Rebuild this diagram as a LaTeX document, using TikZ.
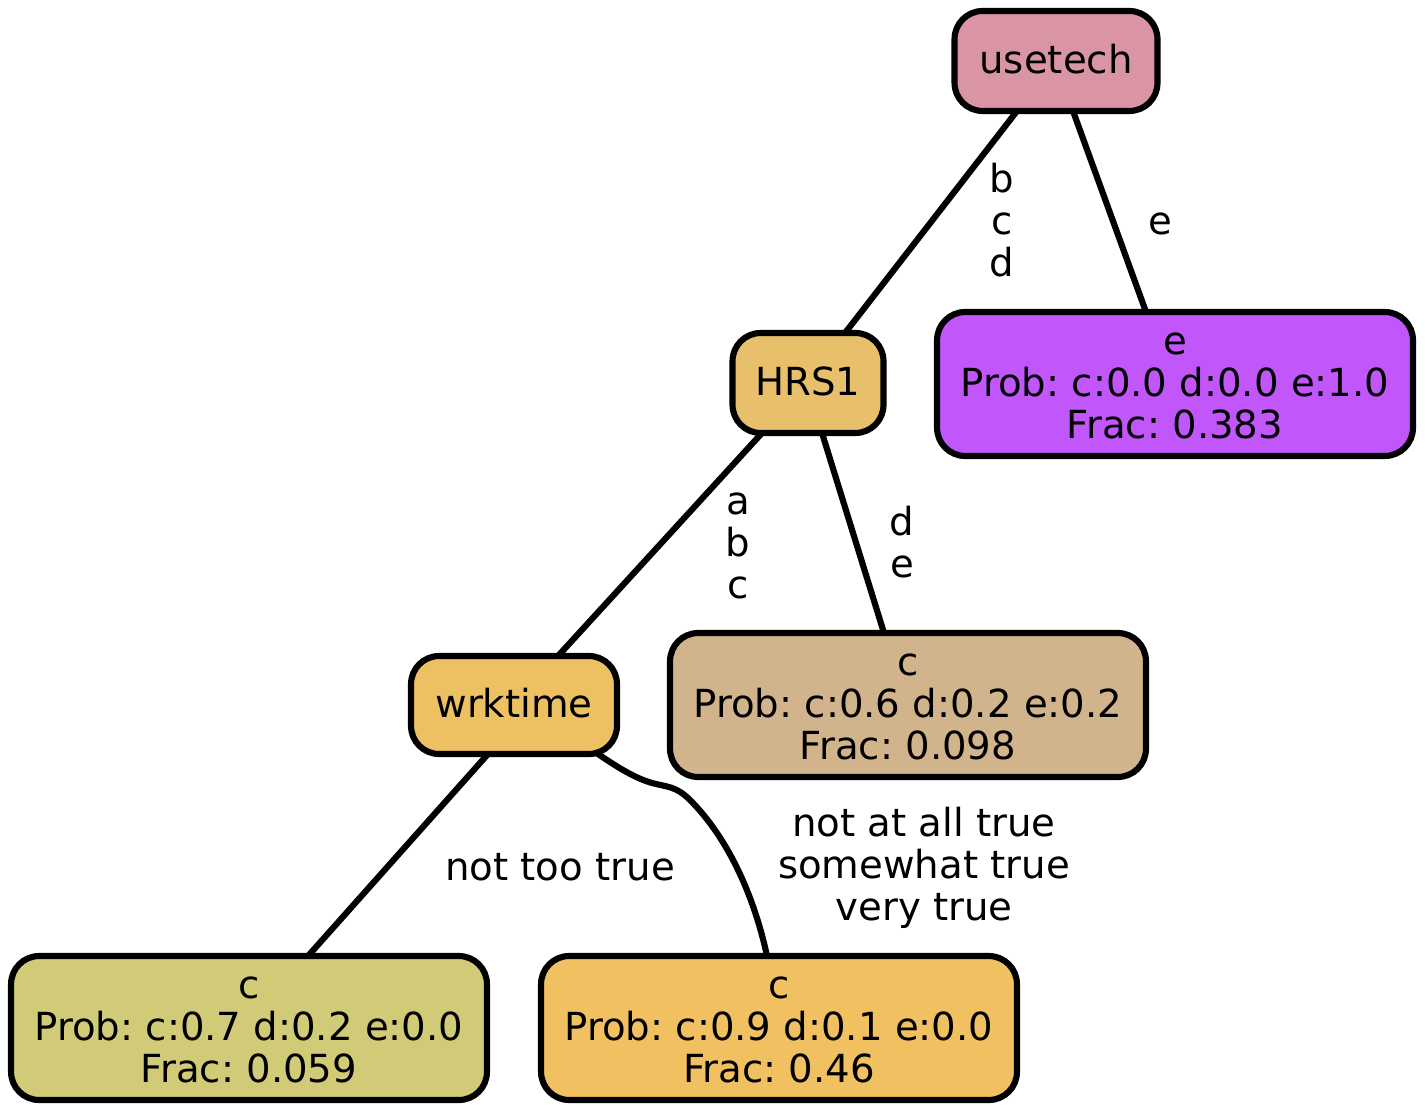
\documentclass[tikz,border=0pt]{standalone}
\usepackage{fontspec}
\setmainfont{DejaVu Sans}
\usetikzlibrary{calc}
\definecolor{cUse}{HTML}{D995A4}
\definecolor{cHrs}{HTML}{E8C06C}
\definecolor{cE}{HTML}{C157FA}
\definecolor{cWrk}{HTML}{EDC062}
\definecolor{cTan}{HTML}{D2B48C}
\definecolor{cLeafA}{HTML}{D1CB77}
\definecolor{cLeafB}{HTML}{F1C061}
% one text line with a fixed height and depth
\newcommand{\tl}[1]{\rule[-4.8pt]{0pt}{23.8pt}#1}
\frenchspacing
\begin{document}
\begin{tikzpicture}[x=0.02cm,y=-0.02cm,
  every node/.style={font=\fontsize{22}{23.8}\selectfont\frenchspacing, inner sep=0pt, outer sep=0pt},
  split/.style={draw=black, line width=3.5pt, rounded corners=16pt, align=center,
                minimum width=4.06cm, minimum height=2cm},
  leaf/.style={draw=black, line width=3.5pt, rounded corners=16pt, align=center,
               minimum width=9.52cm, minimum height=2.88cm},
  edge/.style={draw=black, line width=3.5pt},
  elabel/.style={align=center}]
  \useasboundingbox (0,0) rectangle (1425,1114);

  % decision nodes
  \node[split, fill=cUse] (usetech) at (1056,61) {\tl{usetech}};
  \node[split, fill=cHrs, minimum width=3.02cm] (hrs) at (808,383) {\tl{HRS1}};
  \node[split, fill=cWrk, minimum width=4.12cm, minimum height=1.96cm] (wrk) at (514,705) {\tl{wrktime}};

  % leaves
  \node[leaf, fill=cE] (leafE) at (1175,384) {\tl{e}\\\tl{Prob: c:0.0 d:0.0 e:1.0}\\\tl{Frac: 0.383}};
  \node[leaf, fill=cTan] (leafT) at (908,705) {\tl{c}\\\tl{Prob: c:0.6 d:0.2 e:0.2}\\\tl{Frac: 0.098}};
  \node[leaf, fill=cLeafA] (leafA) at (249,1028) {\tl{c}\\\tl{Prob: c:0.7 d:0.2 e:0.0}\\\tl{Frac: 0.059}};
  \node[leaf, fill=cLeafB] (leafB) at (779,1028) {\tl{c}\\\tl{Prob: c:0.9 d:0.1 e:0.0}\\\tl{Frac: 0.46}};

  % connectors
  \draw[edge] ([xshift=-0.78cm]usetech.south) -- ([xshift=0.74cm]hrs.north);
  \draw[edge] ([xshift=0.34cm]usetech.south) -- ([xshift=-0.58cm]leafE.north);
  \draw[edge] ([xshift=-0.92cm]hrs.south) -- ([xshift=0.88cm]wrk.north);
  \draw[edge] ([xshift=0.28cm]hrs.south) -- ([xshift=-0.48cm]leafT.north);
  \draw[edge] ([xshift=-0.52cm]wrk.south) -- ([xshift=1.18cm]leafA.north);
  \draw[edge] ([xshift=1.62cm,yshift=0.04cm]wrk.south)
      .. controls (620,769) and (635,778) .. (652,783)
      .. controls (667,787) and (676,786) .. (690,800)
      .. controls (730,840) and (755,900) .. ([xshift=-0.24cm]leafB.north);

  % connector labels
  \node[elabel] (lbd) at (1002,222) {\tl{b}\\\tl{c}\\\tl{d}};
  \node[elabel] (le) at (1160,222) {\tl{e}};
  \node[elabel] (lab) at (738,544) {\tl{a}\\\tl{b}\\\tl{c}};
  \node[elabel] (lde) at (902,544) {\tl{d}\\\tl{e}};
  \node[elabel] (lnt) at (560,868) {\tl{not too true}};
  \node[elabel] (lnat) at (924,866) {\tl{not at all true}\\\tl{somewhat true}\\\tl{very true}};
\end{tikzpicture}
\end{document}
